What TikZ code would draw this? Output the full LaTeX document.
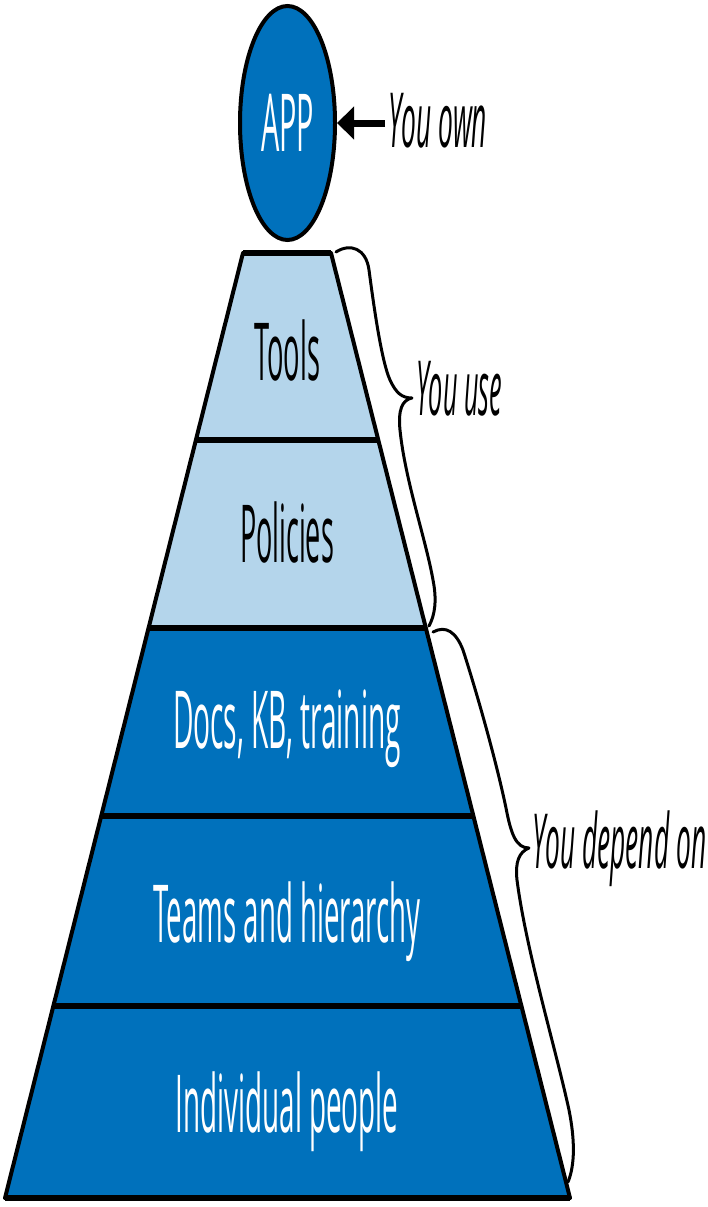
\documentclass[tikz,border=0pt]{standalone}
\usepackage{fontspec}
\setmainfont{Open Sans}
\usepackage{graphicx}
\usetikzlibrary{shapes.geometric,arrows.meta,calc}
\definecolor{dblue}{HTML}{0071BC}
\definecolor{lblue}{HTML}{B4D5EB}
\newcommand\fitw[2]{\resizebox{#1}{\height}{#2}}
\begin{document}
\begin{tikzpicture}[x=1pt,y=-1pt,
  lbl/.style={inner sep=0pt, font=\fontsize{80}{80}\selectfont},
  ilbl/.style={inner sep=0pt, font=\fontsize{76}{76}\selectfont\itshape},
  divider/.style={line width=5.5pt},
  edge/.style={line width=4pt, line cap=round},
  brace/.style={line width=3pt, line cap=round, line join=round},
  appnode/.style={ellipse, draw, line width=4pt, fill=dblue, text=white,
    minimum width=95pt, minimum height=234pt, inner sep=0pt,
    font=\fontsize{80}{80}\selectfont}]
\useasboundingbox (0,0) rectangle (708,1207);

% pyramid corners
\coordinate (TL) at (243,253);
\coordinate (TR) at (331,253);
\coordinate (BL) at (5,1198);
\coordinate (BR) at (570,1198);
\coordinate (L1) at ($(TL)!0.1979!(BL)$);
\coordinate (R1) at ($(TR)!0.1979!(BR)$);
\coordinate (L2) at ($(TL)!0.3968!(BL)$);
\coordinate (R2) at ($(TR)!0.3968!(BR)$);
\coordinate (L3) at ($(TL)!0.5958!(BL)$);
\coordinate (R3) at ($(TR)!0.5958!(BR)$);
\coordinate (L4) at ($(TL)!0.7968!(BL)$);
\coordinate (R4) at ($(TR)!0.7968!(BR)$);

\fill[lblue] (TL) -- (TR) -- (R2) -- (L2) -- cycle;
\fill[dblue] (L2) -- (R2) -- (BR) -- (BL) -- cycle;
\draw[divider] (L1) -- (R1);
\draw[divider] (L2) -- (R2);
\draw[divider] (L3) -- (R3);
\draw[divider] (L4) -- (R4);
\draw[edge] (TL) -- (BL);
\draw[edge] (TR) -- (BR);
\draw[line width=6pt] (TL) -- (TR);
\draw[line width=6pt] (BL) -- (BR);

% layer labels
\node[lbl, anchor=base] (tools) at (287,380) {\fitw{66pt}{Tools}};
\node[lbl, anchor=base] (policies) at (287,562) {\fitw{94pt}{Policies}};
\node[lbl, anchor=base, text=white] (docs) at (287,748) {\fitw{228pt}{Docs, KB, training}};
\node[lbl, anchor=base, text=white] (teams) at (287,942) {\fitw{267pt}{Teams and hierarchy}};
\node[lbl, anchor=base, text=white] (people) at (287,1132) {\fitw{223pt}{Individual people}};

% APP circle
\node[appnode] (app) at (287.5,123) {\fitw{53pt}{APP}};
\node[ilbl, anchor=base west] (own) at (388,147) {\fitw{99pt}{You own}};
\draw[line width=7pt, -{Triangle[length=17pt,width=32pt]}]
  ([xshift=-3pt]own.west |- app.east) -- (app.east);

% braces
\node[ilbl, anchor=base west] (use) at (416,415) {\fitw{86pt}{You use}};
\node[ilbl, anchor=base west] (dep) at (532,868) {\fitw{174pt}{You depend on}};
\coordinate (b1s) at (336,252);
\coordinate (b1t) at (412,398);
\coordinate (b1e) at (429,626);
\draw[brace] (b1s)
  .. controls (350,243) and (366,248) .. (369,270)
  .. controls (373,300) and (381,360) .. (390,380)
  .. controls (396,393) and (402,398) .. (b1t)
  .. controls (402,400) and (398,410) .. (400,430)
  .. controls (405,480) and (426,540) .. (433,580)
  .. controls (437,600) and (435,615) .. (b1e);
\coordinate (b2s) at (433,632);
\coordinate (b2t) at (529,848);
\coordinate (b2e) at (568,1182);
\draw[brace] (b2s)
  .. controls (446,625) and (456,632) .. (463,650)
  .. controls (476,690) and (496,760) .. (506,808)
  .. controls (511,834) and (516,848) .. (b2t)
  .. controls (519,852) and (515,862) .. (517,880)
  .. controls (526,950) and (556,1050) .. (569,1110)
  .. controls (575,1140) and (575,1165) .. (b2e);
\end{tikzpicture}
\end{document}
